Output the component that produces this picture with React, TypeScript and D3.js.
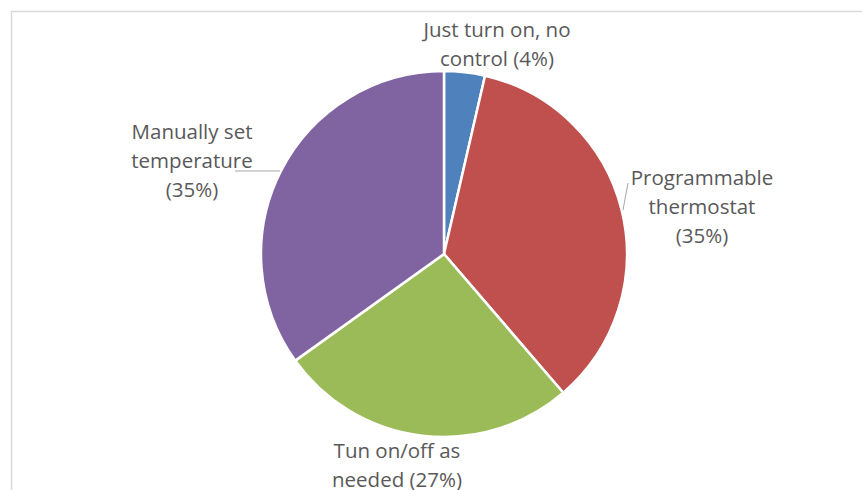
import React from "react";
import * as d3 from "d3";

const categories = ["Just turn on, no control", "Programmable thermostat", "Tun on/off as needed", "Manually set temperature"];
const values = [3.6, 35.1, 26.4, 34.9];
const colors = ["#4f81bd", "#c0504d", "#9bbb59", "#8064a2"];
const labelLines = [
  ["Just turn on, no", "control (4%)"],
  ["Programmable", "thermostat", "(35%)"],
  ["Tun on/off as", "needed (27%)"],
  ["Manually set", "temperature", "(35%)"],
];
// label anchor (center x, first baseline y) in chart coordinates
const labelPos: [number, number][] = [
  [497, 37],
  [702, 185],
  [397, 458],
  [192, 139],
];

export default function App() {
  const W = 862, H = 490;
  const cx = 444, cy = 254, r = 183;
  const pie = d3.pie<number>().sort(null).value((d) => d);
  const arcs = pie(values);
  const arc = d3.arc<d3.PieArcDatum<number>>().innerRadius(0).outerRadius(r);
  const lineH = 29;
  return (
    <svg width={W} height={H} style={{ position: "absolute", left: 0, top: 0, background: "#fff" }}
      fontFamily="'Open Sans', sans-serif">
      <rect x={11.5} y={11.5} width={W} height={H} fill="#fff" stroke="#d9d9d9" strokeWidth={1.5} />
      <g transform={`translate(${cx},${cy})`}>
        {arcs.map((a, i) => (
          <path key={i} d={arc(a) || ""} fill={colors[i]} stroke="#fff" strokeWidth={2.5}>
            <title>{categories[i]}</title>
          </path>
        ))}
      </g>
      <line x1={235} y1={171} x2={280} y2={171} stroke="#a6a6a6" strokeWidth={1} />
      <line x1={628} y1={183} x2={623} y2={210} stroke="#a6a6a6" strokeWidth={1} />
      {labelLines.map((lines, i) => (
        <text key={i} textAnchor="middle" fill="#595959" fontSize={20.5}>
          {lines.map((t, j) => (
            <tspan key={j} x={labelPos[i][0]} y={labelPos[i][1] + j * lineH}>{t}</tspan>
          ))}
        </text>
      ))}
    </svg>
  );
}
